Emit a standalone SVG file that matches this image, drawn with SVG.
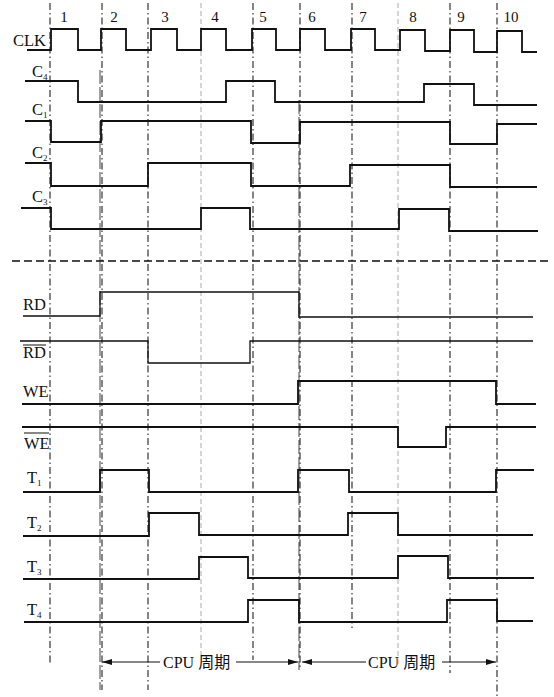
<svg xmlns="http://www.w3.org/2000/svg" width="554" height="697" viewBox="0 0 554 697">
<style>
.sig{fill:none;stroke:#111;stroke-width:1.8;stroke-linejoin:miter}
.thin{stroke-width:1.3}
.vd{fill:none;stroke:#222;stroke-width:1.1;stroke-dasharray:7 3 1.5 3}
.vg{fill:none;stroke:#aaa;stroke-width:1;stroke-dasharray:5 3}
.vl{fill:none;stroke:#555;stroke-width:1.1;stroke-dasharray:14 3}
.lbl{font-family:"Liberation Serif","Noto Sans CJK SC",serif;font-size:16.5px;fill:#111}
.sub{font-size:9px}
.num{font-family:"Liberation Serif",serif;font-size:15px;fill:#111;text-anchor:middle}
.cpu{font-family:"Liberation Serif","Noto Sans CJK SC",serif;font-size:16px;fill:#111}
.arr{fill:none;stroke:#111;stroke-width:1.1}
</style>
<defs>
<marker id="ah" viewBox="0 0 10 6" refX="10" refY="3" markerWidth="10" markerHeight="6" markerUnits="userSpaceOnUse" orient="auto-start-reverse">
<path d="M0,0 L10,3 L0,6 Z" fill="#111"/>
</marker>
</defs>
<rect width="554" height="697" fill="#fff"/>

<g id="connectors">
<line class="vd" x1="50" y1="3" x2="50" y2="665"/>
<line class="vl" x1="100" y1="70" x2="100" y2="690"/>
<line class="vd" x1="102" y1="3" x2="102" y2="690"/>
<line class="vd" x1="148" y1="3" x2="148" y2="690"/>
<line class="vg" x1="201" y1="3" x2="201" y2="655"/>
<line class="vd" x1="253" y1="3" x2="253" y2="660"/>
<line class="vl" x1="299" y1="100" x2="299" y2="670"/>
<line class="vd" x1="300" y1="3" x2="300" y2="670"/>
<line class="vd" x1="352" y1="3" x2="352" y2="628"/>
<line class="vg" x1="398" y1="3" x2="398" y2="667"/>
<line class="vd" x1="450" y1="3" x2="450" y2="673"/>
<line class="vd" x1="497" y1="3" x2="497" y2="697"/>
<line x1="12" y1="261" x2="549" y2="261" stroke="#111" stroke-width="1.6" stroke-dasharray="8 4"/>
<line class="arr" x1="160" y1="662" x2="102" y2="662" marker-end="url(#ah)"/>
<line class="arr" x1="236" y1="662" x2="298" y2="662" marker-end="url(#ah)"/>
<line class="arr" x1="366" y1="662" x2="302" y2="662" marker-end="url(#ah)"/>
<line class="arr" x1="442" y1="662" x2="496" y2="662" marker-end="url(#ah)"/>
</g>

<g id="numbers">
<text class="num" x="64" y="22">1</text>
<text class="num" x="114" y="22">2</text>
<text class="num" x="165" y="22">3</text>
<text class="num" x="215" y="22">4</text>
<text class="num" x="263" y="22">5</text>
<text class="num" x="312" y="22">6</text>
<text class="num" x="363" y="22">7</text>
<text class="num" x="413" y="22">8</text>
<text class="num" x="461" y="22">9</text>
<text class="num" x="511" y="22">10</text>
</g>

<g id="CLK">
<text class="lbl" x="13" y="46">CLK</text>
<path class="sig" d="M27,50 H51 V29 H78 V50 H101 V29 H126 V50 H151 V29 H177 V50 H201 V29 H226 V50 H252 V29 H276 V50 H300 V29 H325 V50 H351 V29 H375 V50 H400 V30 H425 V51 H450 V30 H474 V52 H497 V31 H522 V52 H537"/>
</g>
<g id="C4">
<text class="lbl" x="32" y="77">C<tspan class="sub" dy="3">4</tspan></text>
<path class="sig" d="M25,81 H78 V102 H226 V81 H275 V102 H424 V84 H474 V105 H537"/>
</g>
<g id="C1">
<text class="lbl" x="32" y="115">C<tspan class="sub" dy="3">1</tspan></text>
<path class="sig" d="M25,121 H51 V142 H101 V121 H251 V143 H300 V122 H450 V144 H497 V124 H537"/>
</g>
<g id="C2">
<text class="lbl" x="32" y="158">C<tspan class="sub" dy="3">2</tspan></text>
<path class="sig" d="M25,163 H51 V186 H148 V163 H251 V186 H350 V165 H450 V187 H537"/>
</g>
<g id="C3">
<text class="lbl" x="32" y="202">C<tspan class="sub" dy="3">3</tspan></text>
<path class="sig" d="M21,208 H51 V229 H201 V208 H250 V229 H399 V209 H449 V231 H538"/>
</g>

<g id="RD">
<text class="lbl" x="23" y="310">RD</text>
<path class="sig thin" d="M23,316 H100 V292 H299 V317 H533"/>
</g>
<g id="RD_bar">
<text class="lbl" x="23" y="358">RD</text>
<line x1="23" y1="345" x2="46" y2="345" stroke="#111" stroke-width="1"/>
<path class="sig thin" d="M20,341 H148 V363 H250 V341 H533"/>
</g>
<g id="WE">
<text class="lbl" x="23" y="397">WE</text>
<path class="sig" d="M22,404 H298 V381 H496 V404 H536"/>
</g>
<g id="WE_bar">
<text class="lbl" x="24" y="449">WE</text>
<line x1="24" y1="433" x2="49" y2="433" stroke="#111" stroke-width="1"/>
<path class="sig" d="M22,427 H398 V447 H446 V427 H536"/>
</g>

<g id="T1">
<text class="lbl" x="27" y="483">T<tspan class="sub" dy="3">1</tspan></text>
<path class="sig" d="M23,492 H100 V470 H149 V492 H298 V470 H349 V492 H496 V470 H534"/>
</g>
<g id="T2">
<text class="lbl" x="27" y="528">T<tspan class="sub" dy="3">2</tspan></text>
<path class="sig" d="M23,536 H149 V513 H199 V535 H348 V513 H398 V535 H533"/>
</g>
<g id="T3">
<text class="lbl" x="27" y="572">T<tspan class="sub" dy="3">3</tspan></text>
<path class="sig" d="M23,579 H199 V557 H248 V578 H398 V556 H448 V578 H534"/>
</g>
<g id="T4">
<text class="lbl" x="27" y="615">T<tspan class="sub" dy="3">4</tspan></text>
<path class="sig" d="M24,622 H248 V600 H299 V622 H447 V600 H497 V621 H533"/>
</g>

<g id="cpu_labels">
<text class="cpu" x="163" y="668">CPU 周期</text>
<text class="cpu" x="368" y="668">CPU 周期</text>
</g>
</svg>
